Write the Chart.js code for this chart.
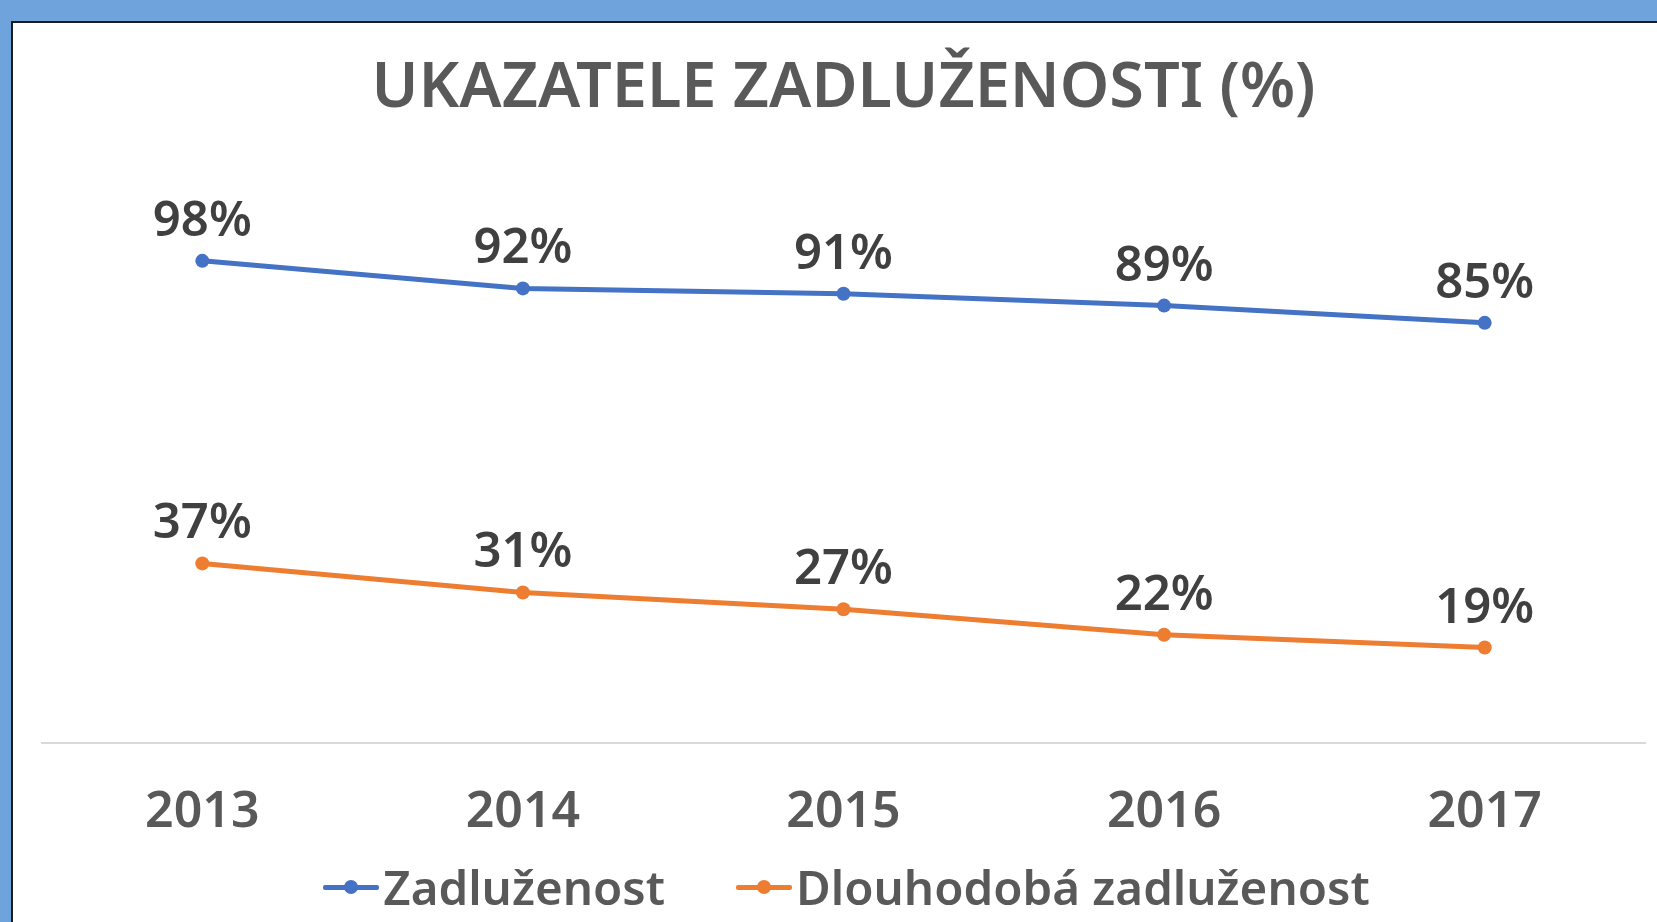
<!DOCTYPE html>
<html lang="cs">
<head>
<meta charset="utf-8">
<title>Ukazatele zadluženosti</title>
<script src="https://cdn.jsdelivr.net/npm/chart.js@4.4.1/dist/chart.umd.min.js"></script>
<style>
    html, body {
        margin: 0;
        padding: 0;
        width: 1657px;
        height: 922px;
        overflow: hidden;
        background: #6fa3db;
        font-family: "Noto Sans", sans-serif;
    }
    #ramec {
        position: absolute;
        left: 11px;
        top: 21px;
        width: 1700px;
        height: 950px;
        background: #fff;
        border-left: 2px solid #1b1b1b;
        border-top: 2px solid #1b1b1b;
    }
    #graf {
        position: absolute;
        left: 0;
        top: 0;
    }
    #legenda {
        position: absolute;
        left: 0;
        top: 834px;
        width: 1667px;
        height: 60px;
        display: flex;
        justify-content: center;
        align-items: center;
        gap: 71px;
        font-size: 47.5px;
        font-weight: 600;
        color: #595959;
        line-height: 60px;
    }
    .polozka {
        display: flex;
        align-items: center;
        gap: 4px;
    }
    .znacka {
        position: relative;
        flex: 0 0 56px;
        width: 56px;
        height: 14px;
    }
    .znacka .cara {
        position: absolute;
        left: 0;
        top: 5px;
        width: 56px;
        height: 4.5px;
        border-radius: 2px;
    }
    .znacka .bod {
        position: absolute;
        left: 21px;
        top: 0;
        width: 14px;
        height: 14px;
        border-radius: 50%;
    }
</style>
</head>
<body>
<div id="ramec">
    <canvas id="graf" width="1664" height="899"></canvas>
    <div id="legenda"></div>
</div>
<script>
// Data (v %)
const roky = ['2013', '2014', '2015', '2016', '2017'];
const zadluzenost = [98, 92.4, 91.3, 88.9, 85.4];
const dlouhodobaZadluzenost = [36.5, 30.6, 27.2, 22.0, 19.4];

const modra = '#4472c4';
const oranzova = '#ed7d31';

// Popisky hodnot nad body
const popiskyHodnot = {
    id: 'popiskyHodnot',
    afterDatasetsDraw(chart) {
        const ctx = chart.ctx;
        ctx.save();
        ctx.font = '600 49px "Noto Sans"';
        ctx.fillStyle = '#404040';
        ctx.textAlign = 'center';
        ctx.textBaseline = 'middle';
        chart.data.datasets.forEach((ds, i) => {
            const meta = chart.getDatasetMeta(i);
            meta.data.forEach((bod, j) => {
                ctx.fillText(Math.round(ds.data[j]) + '%', bod.x, bod.y - 39);
            });
        });
        ctx.restore();
    }
};

const ctx = document.getElementById('graf').getContext('2d');

const graf = new Chart(ctx, {
    type: 'line',
    data: {
        labels: roky,
        datasets: [
            {
                label: 'Zadluženost',
                data: zadluzenost,
                borderColor: modra,
                backgroundColor: modra,
                borderWidth: 5,
                pointRadius: 7,
                pointHoverRadius: 7,
                pointBorderWidth: 0,
                tension: 0
            },
            {
                label: 'Dlouhodobá zadluženost',
                data: dlouhodobaZadluzenost,
                borderColor: oranzova,
                backgroundColor: oranzova,
                borderWidth: 5,
                pointRadius: 7,
                pointHoverRadius: 7,
                pointBorderWidth: 0,
                tension: 0
            }
        ]
    },
    options: {
        responsive: false,
        animation: false,
        layout: {
            padding: { left: 29, right: 32, top: 0, bottom: 39 }
        },
        scales: {
            x: {
                offset: true,
                grid: { display: false, drawTicks: false },
                border: { color: '#d9d9d9', width: 2 },
                ticks: {
                    padding: 40,
                    color: '#595959',
                    font: { family: '"Noto Sans"', size: 50, weight: '600' }
                }
            },
            y: {
                display: false,
                min: 0,
                max: 120
            }
        },
        plugins: {
            title: {
                display: true,
                text: 'UKAZATELE ZADLUŽENOSTI (%)',
                color: '#595959',
                font: { family: '"Noto Sans"', size: 63, weight: '600', lineHeight: 1.2 },
                padding: { top: 28, bottom: 26 }
            },
            legend: { display: false },
            tooltip: { enabled: false }
        }
    },
    plugins: [popiskyHodnot]
});

// HTML legenda pod grafem
const legenda = document.getElementById('legenda');
Chart.defaults.plugins.legend.labels.generateLabels(graf).forEach(polozka => {
    const el = document.createElement('div');
    el.className = 'polozka';
    const znacka = document.createElement('span');
    znacka.className = 'znacka';
    const cara = document.createElement('span');
    cara.className = 'cara';
    cara.style.background = polozka.strokeStyle;
    const bod = document.createElement('span');
    bod.className = 'bod';
    bod.style.background = polozka.strokeStyle;
    znacka.appendChild(cara);
    znacka.appendChild(bod);
    const text = document.createElement('span');
    text.textContent = polozka.text;
    el.appendChild(znacka);
    el.appendChild(text);
    legenda.appendChild(el);
});
</script>
</body>
</html>
